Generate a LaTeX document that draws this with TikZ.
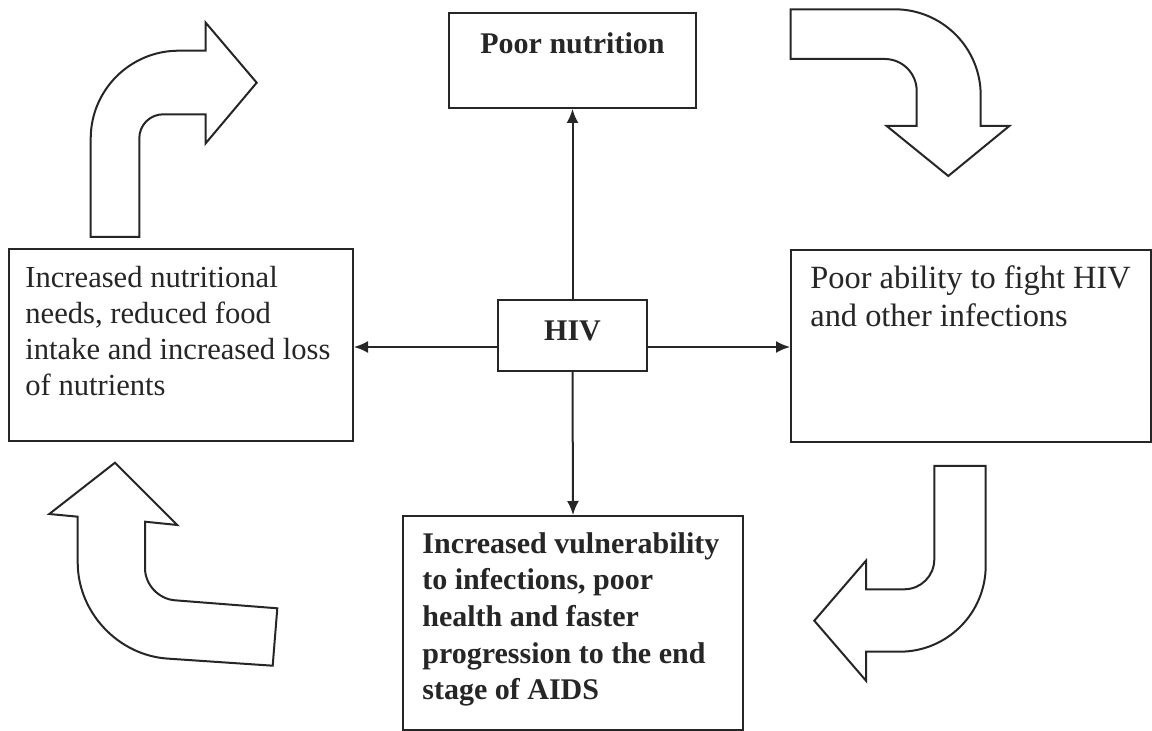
\documentclass[tikz,border=0pt]{standalone}
\usepackage{fontspec}
\setmainfont{Liberation Serif}
\usetikzlibrary{arrows.meta}

\begin{document}
\begin{tikzpicture}[x=0.5pt,y=-0.5pt,draw=black!85,>={Latex[length=7pt,width=6pt]}]
	\tikzstyle{box}=[draw,line width=1pt,anchor=north west,inner sep=0pt]
	\tikzstyle{txt}=[anchor=north west,inner sep=0pt,align=left,text=black!85]
	\tikzstyle{turnarrow}=[draw,line width=1pt,line join=miter]
	\tikzstyle{link}=[->,line width=1pt]

\useasboundingbox[fill=white] (0,0) rectangle (1152,731);

\node[box,minimum width=123.5pt,minimum height=47.5pt](poor) at (448,12){};
\node[box,minimum width=172pt,minimum height=96pt](needs) at (8,248){};
\node[box,minimum width=180pt,minimum height=96pt](fight) at (790,249){};
\node[box,minimum width=170pt,minimum height=107pt](aids) at (402,515){};
\node[box,minimum width=74.5pt,minimum height=35.5pt,text depth=5pt,
	font=\fontsize{15pt}{18pt}\selectfont\bfseries,text=black!85](hiv) at (497,299){HIV};

\node[txt,font=\fontsize{15pt}{18pt}\selectfont\bfseries](poorT) at (480,32){Poor nutrition};
\node[txt,font=\fontsize{15.3pt}{18pt}\selectfont](needsT) at (25,266){Increased nutritional\\needs, reduced food\\intake and increased loss\\of nutrients};
\node[txt,font=\fontsize{16.2pt}{19pt}\selectfont](fightT) at (810,265){Poor ability to fight HIV\\and other infections};
\node[txt,font=\fontsize{15pt}{18.3pt}\selectfont\bfseries](aidsT) at (422,532){Increased vulnerability\\to infections, poor\\health and faster\\progression to the end\\stage of AIDS};

\coordinate (mid) at (571.5,347);
\draw[link] (hiv.north) -- (poor.south);
\draw[link] (hiv.south) -- (aids.north);
\draw[link] (mid -| hiv.west) -- (mid -| needs.east);
\draw[link] (mid -| hiv.east) -- (mid -| fight.west);

% curved arrows round the cycle
\path[turnarrow] (90.7,237) -- (90.7,138.7) .. controls (90.7,90.1) and (130.1,50.7) .. (178.7,50.7)
	-- (205.7,50.7) -- (205.7,22.7) -- (256.7,82.7) -- (205.7,143.3) -- (205.7,114.3)
	-- (163.3,114.3) .. controls (150,114.3) and (139.3,125) .. (139.3,138.3) -- (139.3,237) -- cycle;
\path[turnarrow] (790.7,9.3) -- (894.7,9.3) .. controls (942.2,9.3) and (980.7,47.8) .. (980.7,95.3)
	-- (980.7,126) -- (1009.3,126) -- (948.3,176) -- (886.7,126) -- (916.7,126)
	-- (916.7,91) .. controls (916.7,73.3) and (902.4,59) .. (884.7,59) -- (790.7,59) -- cycle;
\path[turnarrow] (934.3,466) -- (985.7,466) -- (985.7,565.7) .. controls (985.7,613.2) and (947.2,651.7) .. (899.7,651.7)
	-- (866,651.7) -- (866,680.7) -- (814.3,620.7) -- (866,560.7) -- (866,589.3)
	-- (904.3,589.3) .. controls (920.9,589.3) and (934.3,575.9) .. (934.3,559.3) -- cycle;
\path[turnarrow] (272.7,665.7) -- (167.5,658.6) .. controls (117.9,655.2) and (77.7,612.2) .. (77.7,562.5)
	-- (77.7,516.7) -- (49.3,514) -- (115,462.7) -- (177.3,525) -- (145,521.7)
	-- (145,568) .. controls (145,584.6) and (158.4,599) .. (174.9,600.3) -- (277.3,608.3) -- cycle;

\end{tikzpicture}
\end{document}
